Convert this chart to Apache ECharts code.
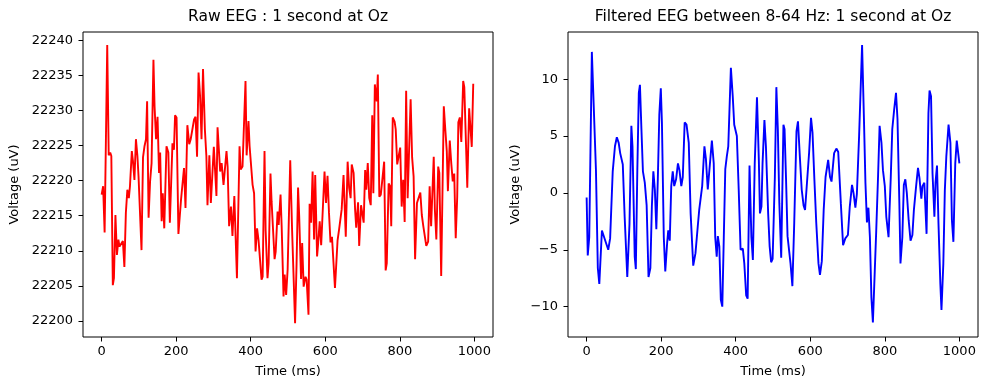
<!DOCTYPE html>
<html>
<head>
<meta charset="utf-8">
<script src="https://cdn.jsdelivr.net/npm/echarts@6/dist/echarts.min.js"></script>
<style>html,body{margin:0;padding:0;background:#fff;}#c{width:988px;height:390px;}</style>
</head>
<body>
<div id="c"></div>
<script>
// ---- data ----
const rawTime = [0,4,8,15,19,23,26,30,33,37,41,45,48,53,57,61,65,69,73,76,81,84,88,92,96,99,104,107,111,115,119,122,126,130,134,139,142,146,150,154,157,161,164,168,174,179,183,190,194,197,201,206,213,221,225,230,235,239,244,248,252,256,260,264,268,272,277,281,284,289,293,301,304,308,311,318,322,327,335,338,342,347,351,356,363,370,373,378,386,389,394,397,405,409,413,417,421,425,429,432,437,440,445,448,453,456,460,464,467,472,475,480,483,488,491,495,499,506,511,515,519,523,527,530,535,538,542,547,550,555,558,562,566,570,573,578,581,585,589,593,598,602,606,610,614,618,626,633,637,644,649,655,660,664,668,671,676,680,683,688,691,696,700,703,707,710,714,718,722,726,729,733,738,741,745,749,754,758,762,765,770,774,777,781,786,789,793,797,801,805,809,813,817,821,829,833,837,841,846,850,855,859,863,871,876,880,884,891,894,898,903,906,911,918,922,926,929,934,938,942,946,950,954,957,961,965,970,973,981,986,989,993,997];
const rawValues = [22218.0,22219.2,22212.6,22239.3,22223.6,22224.0,22223.5,22205.1,22206.1,22215.1,22209.4,22211.6,22210.6,22210.7,22211.4,22207.7,22215.4,22218.7,22217.5,22219.2,22224.2,22222.8,22220.1,22225.9,22223.5,22220.6,22220.4,22210.1,22223.3,22224.9,22225.9,22231.3,22214.7,22219.9,22222.5,22237.2,22230.6,22225.9,22229.1,22221.1,22224.0,22214.2,22218.2,22213.2,22224.9,22224.0,22214.0,22225.3,22224.4,22229.3,22229.0,22212.4,22217.3,22221.8,22216.1,22227.9,22225.2,22225.9,22225.9,22228.7,22229.1,22223.4,22235.4,22232.1,22225.9,22235.9,22227.3,22223.5,22216.5,22223.6,22216.8,22224.8,22224.6,22217.8,22227.6,22221.3,22222.5,22219.4,22224.2,22222.0,22213.5,22216.3,22212.1,22217.8,22206.1,22224.9,22221.6,22222.0,22234.2,22223.6,22228.5,22224.9,22219.4,22218.2,22209.9,22213.2,22211.5,22208.7,22205.9,22206.3,22224.2,22212.9,22206.1,22208.2,22221.0,22217.0,22216.8,22208.8,22209.9,22215.6,22213.7,22218.0,22213.5,22203.5,22206.6,22203.7,22207.3,22222.9,22212.9,22212.9,22199.7,22208.2,22219.0,22215.0,22206.0,22211.1,22204.9,22206.3,22205.9,22200.9,22216.7,22214.0,22221.3,22211.6,22220.8,22209.2,22211.1,22214.2,22210.8,22210.8,22221.3,22216.8,22220.7,22215.4,22211.2,22212.0,22204.7,22211.5,22213.0,22215.9,22220.8,22212.0,22222.7,22219.0,22217.5,22222.3,22221.1,22215.9,22213.3,22216.9,22210.7,22216.5,22216.7,22214.0,22221.5,22218.7,22222.5,22217.5,22216.5,22229.3,22218.2,22233.7,22231.3,22235.1,22217.7,22218.0,22220.6,22222.7,22207.2,22208.2,22219.6,22219.2,22213.5,22229.0,22228.4,22227.3,22222.3,22223.5,22224.7,22216.3,22220.1,22214.1,22232.8,22217.5,22231.6,22223.3,22220.6,22208.8,22216.8,22217.0,22218.3,22215.1,22213.5,22210.7,22211.3,22219.2,22213.5,22223.4,22215.9,22211.6,22222.0,22221.1,22206.4,22230.6,22227.3,22224.2,22218.5,22225.7,22222.5,22219.9,22221.0,22211.8,22217.7,22228.3,22229.0,22225.5,22234.2,22233.3,22219.0,22230.3,22230.2,22224.8,22233.8];

const filtTime = [0,3,7,14,19,25,30,34,41,46,52,58,63,70,76,81,86,90,97,102,109,115,120,123,129,132,136,140,143,147,151,156,161,166,171,175,179,183,187,191,195,199,202,207,211,216,219,223,227,231,235,240,245,249,254,258,263,268,274,279,286,292,298,302,310,316,320,325,330,336,341,345,349,352,356,360,364,368,372,376,380,387,392,396,403,408,413,419,423,428,432,437,442,446,451,457,462,465,469,472,477,481,487,491,495,499,505,509,513,517,522,528,531,535,539,543,547,552,557,563,567,572,577,582,586,590,597,602,606,611,616,622,626,631,636,641,648,653,657,664,670,675,682,688,694,701,706,712,716,721,725,731,739,744,748,752,756,760,764,768,773,777,782,786,791,795,800,804,810,816,820,825,830,834,839,842,847,851,855,859,864,869,874,878,884,889,893,898,901,906,912,917,920,924,928,933,936,940,944,949,952,957,961,965,971,976,980,984,989,993,996,1000];
const filtValues = [-0.4,-5.5,-3.9,12.4,12.5,2.0,-6.6,-8.0,-3.3,-3.4,-4.4,-5.0,-4.0,1.9,4.1,4.9,4.4,3.5,2.5,-2.1,-7.4,-2.7,5.9,4.1,-5.6,-6.7,2.0,8.8,9.5,5.6,1.9,0.9,-1.1,-7.4,-6.6,-1.2,1.9,0.3,-3.2,1.2,6.9,9.2,6.2,-3.9,-6.9,-4.4,-3.3,-4.2,0.6,1.9,0.6,1.2,2.6,2.0,0.6,1.4,6.2,6.0,4.4,-1.8,-6.4,-5.3,-3.0,-1.5,0.6,4.1,3.0,0.3,0.3,4.6,2.6,-3.9,-5.6,-3.8,-4.7,-9.4,-10.0,-3.9,2.1,3.2,4.1,11.0,8.5,6.0,5.0,0.3,-5.0,-4.9,-6.2,-9.0,-9.3,2.4,-3.9,-5.9,2.6,8.4,2.9,-1.8,-1.2,2.6,6.4,4.1,-1.8,-4.7,-6.1,-5.8,1.4,9.3,5.6,-0.9,-5.7,6.0,5.6,1.2,-3.8,-3.9,-6.2,-8.2,-2.6,5.4,6.3,3.2,0.3,-1.1,-1.5,-1.5,3.6,6.6,5.3,1.2,-2.6,-6.2,-7.2,-6.0,-1.5,1.4,2.9,1.4,1.0,3.5,3.9,3.6,-0.9,-4.6,-4.0,-3.7,-1.2,0.7,0.0,-1.3,-0.1,5.0,13.0,6.5,0.9,-2.6,-1.3,-3.9,-9.2,-11.4,-6.9,-3.3,1.6,5.9,4.4,2.0,0.6,-2.1,-3.9,1.4,5.6,7.3,8.8,6.5,-0.9,-6.2,-3.9,0.7,1.2,0.0,-2.4,-4.2,-3.7,-1.5,0.6,2.2,1.3,-0.5,0.6,0.9,-3.6,7.0,9.0,8.5,1.7,-2.1,0.9,2.4,-2.7,-8.0,-10.3,-6.2,0.2,3.2,6.0,4.4,-2.4,-4.3,2.6,4.6,4.5,2.6];

const xTicks = [0,200,400,600,800,1000];
const rawYTicks = [22200,22205,22210,22215,22220,22225,22230,22235,22240];
const filtYTicks = [-10,-5,0,5,10];

const titles = ['Raw EEG : 1 second at Oz', 'Filtered EEG between 8-64 Hz: 1 second at Oz'];
const xName = 'Time (ms)';
const yName = 'Voltage (uV)';

// ---- chart ----
const FONT = 'DejaVu Sans';
const pairs = (xs, ys) => xs.map((x, i) => [x, ys[i]]);
const fmt = v => String(v).replace('-', '\u2212');

function xAxisCfg(idx) {
  return {
    type: 'value', gridIndex: idx, min: -50, max: 1050, position: 'bottom',
    name: xName, nameLocation: 'middle', nameGap: 28,
    nameTextStyle: {color: '#000', fontSize: 13, fontFamily: FONT},
    axisLine: {show: false, onZero: false},
    axisTick: {show: true, inside: false, customValues: xTicks, length: 4.5, lineStyle: {color: '#000', width: 1}},
    axisLabel: {customValues: xTicks, color: '#000', fontSize: 13, fontFamily: FONT, margin: 8, formatter: fmt},
    splitLine: {show: false}
  };
}
function yAxisCfg(idx, min, max, ticks, gap) {
  return {
    type: 'value', gridIndex: idx, min: min, max: max, position: 'left',
    name: yName, nameLocation: 'middle', nameGap: gap,
    nameTextStyle: {color: '#000', fontSize: 13, fontFamily: FONT},
    axisLine: {show: false, onZero: false},
    axisTick: {show: true, inside: false, customValues: ticks, length: 4.5, lineStyle: {color: '#000', width: 1}},
    axisLabel: {customValues: ticks, color: '#000', fontSize: 13, fontFamily: FONT, margin: 10, formatter: fmt},
    splitLine: {show: false}
  };
}

const chart = echarts.init(document.getElementById('c'), null, {renderer: 'canvas'});
chart.setOption({
  animation: false,
  backgroundColor: '#fff',
  grid: [
    {left: 83, right: 495, top: 32, bottom: 53, show: true, borderColor: '#000', borderWidth: 1, backgroundColor: 'transparent'},
    {left: 568, right: 10, top: 32, bottom: 53, show: true, borderColor: '#000', borderWidth: 1, backgroundColor: 'transparent'}
  ],
  xAxis: [xAxisCfg(0), xAxisCfg(1)],
  yAxis: [
    yAxisCfg(0, 22197.72, 22241.17, rawYTicks, 62),
    yAxisCfg(1, -12.67, 14.15, filtYTicks, 46)
  ],
  graphic: [
    {type: 'text', x: 288, y: 17, style: {text: titles[0], font: '15.5px "DejaVu Sans"', fill: '#000', textAlign: 'center', textVerticalAlign: 'middle'}},
    {type: 'text', x: 773, y: 17, style: {text: titles[1], font: '15.5px "DejaVu Sans"', fill: '#000', textAlign: 'center', textVerticalAlign: 'middle'}}
  ],
  series: [
    {type: 'line', xAxisIndex: 0, yAxisIndex: 0, data: pairs(rawTime, rawValues), showSymbol: false, symbol: 'none',
     lineStyle: {color: '#ff0000', width: 1.9}, itemStyle: {color: '#ff0000'}, clip: true},
    {type: 'line', xAxisIndex: 1, yAxisIndex: 1, data: pairs(filtTime, filtValues), showSymbol: false, symbol: 'none',
     lineStyle: {color: '#0000ff', width: 1.9}, itemStyle: {color: '#0000ff'}, clip: true}
  ]
});
</script>
</body>
</html>
